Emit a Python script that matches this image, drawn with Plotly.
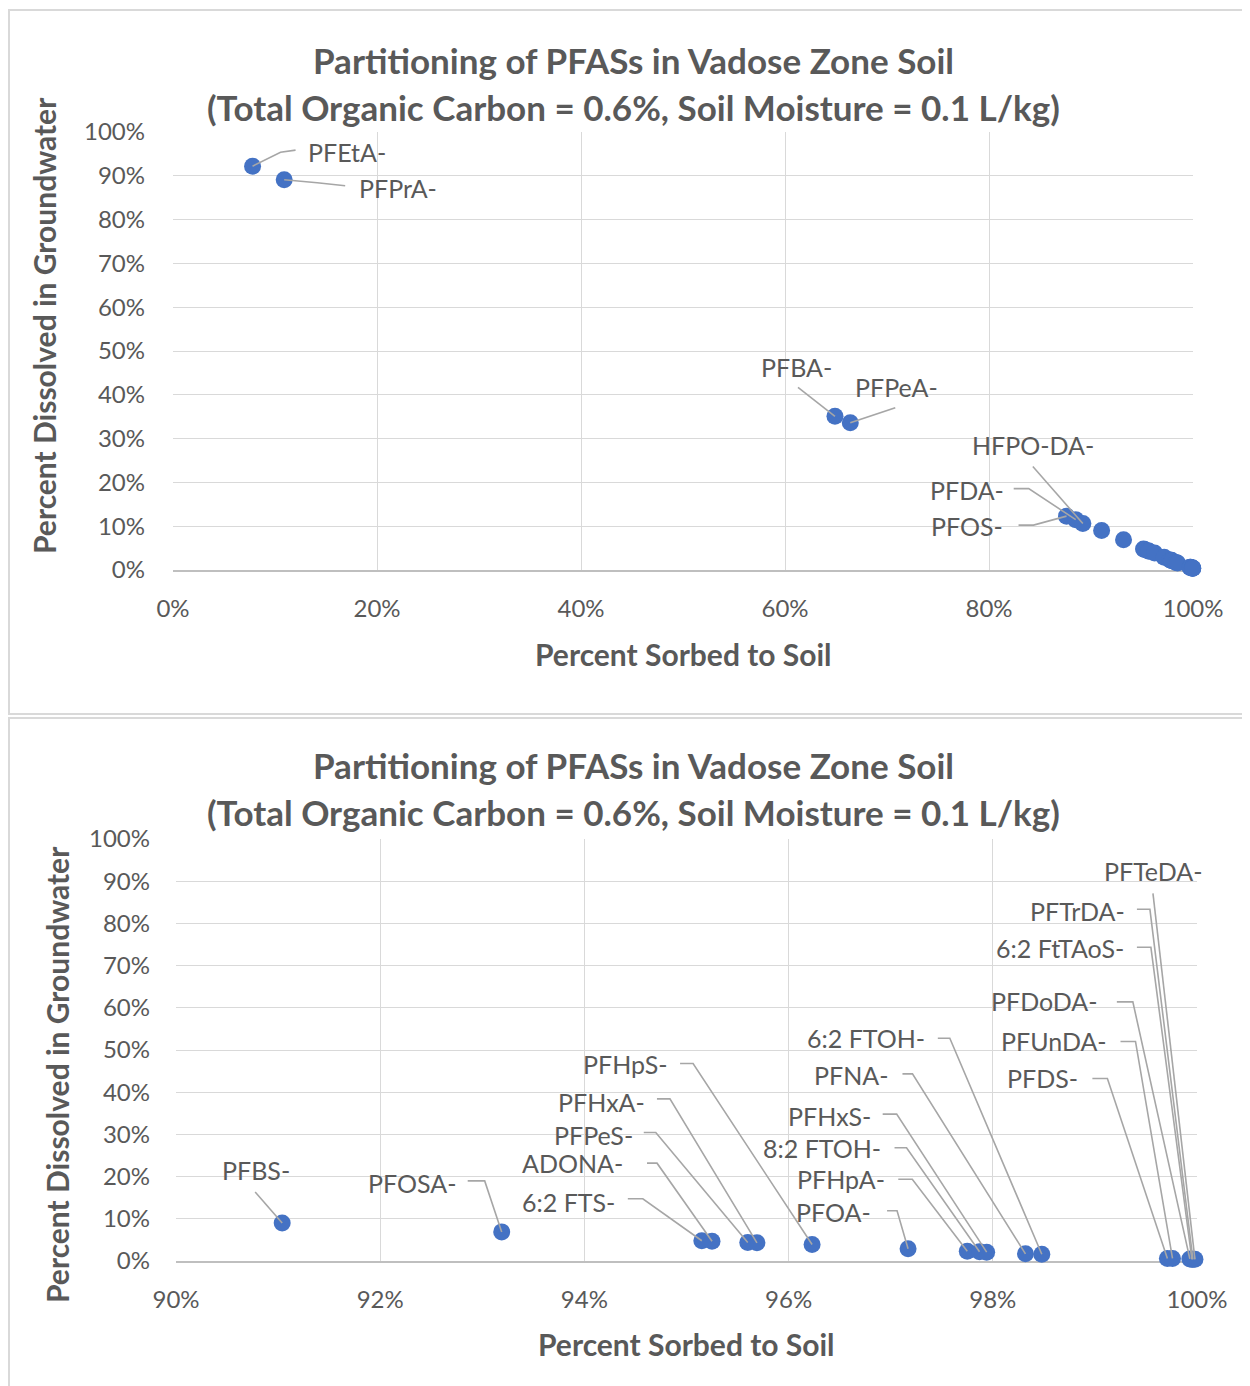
import plotly.graph_objects as go

# ---------------- data ----------------
compounds = [
    "PFEtA-", "PFPrA-", "PFBA-", "PFPeA-", "PFOS-", "PFDA-", "HFPO-DA-",
    "PFBS-", "PFOSA-", "6:2 FTS-", "ADONA-", "PFPeS-", "PFHxA-", "PFHpS-",
    "PFOA-", "PFHpA-", "8:2 FTOH-", "PFHxS-", "PFNA-", "6:2 FTOH-",
    "PFDS-", "PFUnDA-", "PFDoDA-", "6:2 FtTAoS-", "PFTrDA-", "PFTeDA-",
]
sorbed_pct = [
    7.8, 10.9, 64.9, 66.4, 87.6, 88.5, 89.2,
    91.04, 93.19, 95.15, 95.25, 95.60, 95.69, 96.23,
    97.17, 97.75, 97.87, 97.94, 98.32, 98.48,
    99.71, 99.76, 99.93, 99.95, 99.96, 99.98,
]
dissolved_pct = [
    92.2, 89.1, 35.1, 33.6, 12.3, 11.5, 10.6,
    9.0, 6.9, 4.8, 4.7, 4.4, 4.3, 3.9,
    2.9, 2.3, 2.2, 2.1, 1.7, 1.6,
    0.6, 0.6, 0.5, 0.4, 0.4, 0.4,
]

x_ticks_top = [0, 20, 40, 60, 80, 100]
x_ticks_bottom = [90, 92, 94, 96, 98, 100]
y_ticks = [0, 10, 20, 30, 40, 50, 60, 70, 80, 90, 100]

title_line1 = "Partitioning of PFASs in Vadose Zone Soil"
title_line2 = "(Total Organic Carbon = 0.6%, Soil Moisture = 0.1 L/kg)"
x_title = "Percent Sorbed to Soil"
y_title = "Percent Dissolved in Groundwater"

# ---------------- label layout (pixel offsets from each point, y up) ----------------
LABELS_TOP = {
    "PFEtA-":   dict(t=(53, 14), a="left",   lead=[(43, 16), (28, 14)]),
    "PFPrA-":   dict(t=(73, -8), a="left",   lead=[(61, -6), (33, -3)]),
    "PFBA-":    dict(t=(-38, 49), a="center", lead=[(-37, 29)]),
    "PFPeA-":   dict(t=(46, 36), a="center", lead=[(45, 15)]),
    "HFPO-DA-": dict(t=(-50, 79), a="center", lead=[(-50, 57)]),
    "PFDA-":    dict(t=(-70, 30), a="right",  lead=[(-62, 31), (-47, 31)]),
    "PFOS-":    dict(t=(-62, -10), a="right", lead=[(-48, -9), (-33, -9)]),
}
LABELS_BOTTOM = {
    "PFBS-":       dict(t=(-26, 53), a="center", lead=[(-27, 31)]),
    "PFOSA-":      dict(t=(-44, 49), a="right", lead=[(-34, 51), (-17, 51)]),
    "6:2 FTS-":    dict(t=(-85, 39), a="right", lead=[(-74, 42), (-59, 42)]),
    "ADONA-":      dict(t=(-87, 78), a="right", lead=[(-65, 78), (-55, 78)]),
    "PFPeS-":      dict(t=(-113, 107), a="right", lead=[(-104, 110), (-92, 110)]),
    "PFHxA-":      dict(t=(-110, 141), a="right", lead=[(-100, 144), (-87, 144)]),
    "PFHpS-":      dict(t=(-142, 181), a="right", lead=[(-132, 181), (-119, 181)]),
    "6:2 FTOH-":   dict(t=(-115, 216), a="right", lead=[(-104, 216), (-92, 216)]),
    "PFNA-":       dict(t=(-135, 179), a="right", lead=[(-123, 180), (-113, 180)]),
    "PFHxS-":      dict(t=(-114, 136), a="right", lead=[(-104, 138), (-90, 138)]),
    "8:2 FTOH-":   dict(t=(-97, 104), a="right", lead=[(-85, 104), (-73, 104)]),
    "PFHpA-":      dict(t=(-80, 72), a="right", lead=[(-69, 72), (-55, 72)]),
    "PFOA-":       dict(t=(-35, 37), a="right", lead=[(-21, 38), (-11, 38)]),
    "PFTeDA-":     dict(t=(-42, 388), a="center", lead=[(-42, 366)]),
    "PFTrDA-":     dict(t=(-66, 348), a="right", lead=[(-56, 350), (-43, 350)]),
    "6:2 FtTAoS-": dict(t=(-66, 311), a="right", lead=[(-55, 312), (-41, 312)]),
    "PFDoDA-":     dict(t=(-90, 258), a="right", lead=[(-73, 257), (-57, 257)]),
    "PFUnDA-":     dict(t=(-64, 217), a="right", lead=[(-52, 217), (-37, 217)]),
    "PFDS-":       dict(t=(-87, 180), a="right", lead=[(-75, 180), (-60, 180)]),
}

# ---------------- styling ----------------
W, H = 1250, 1386
PAGE_OFFSET = 8  # default body margin of the page
FONT = "Lato"
TXT = "#595959"
GRID = "#D9D9D9"
LEAD = "#A6A6A6"
BLUE = "#4472C4"


def fx(p):
    return (p - PAGE_OFFSET) / W


def fy(p):
    return 1 - (p - PAGE_OFFSET) / H


fig = go.Figure()

# top chart: all compounds
fig.add_trace(go.Scatter(
    x=sorbed_pct, y=dissolved_pct, mode="markers", xaxis="x", yaxis="y",
    marker=dict(size=17, color=BLUE, line=dict(width=0)),
    cliponaxis=False, showlegend=False, hoverinfo="text", text=compounds,
))

# bottom chart: compounds sorbed >= 90 %
bx, by, bn = [], [], []
for n, sx, dy in zip(compounds, sorbed_pct, dissolved_pct):
    if sx >= 90:
        bx.append(sx)
        by.append(dy)
        bn.append(n)
fig.add_trace(go.Scatter(
    x=bx, y=by, mode="markers", xaxis="x2", yaxis="y2",
    marker=dict(size=17, color=BLUE, line=dict(width=0)),
    cliponaxis=False, showlegend=False, hoverinfo="text", text=bn,
))

axis_common = dict(
    showgrid=True, gridcolor=GRID, gridwidth=1.3, zeroline=False,
    ticks="", tickfont=dict(family=FONT, size=24, color=TXT),
    fixedrange=True, layer="below traces", automargin=False,
)


def pct(vals):
    return [f"{v}%" for v in vals]


fig.update_layout(
    template="none",
    width=W, height=H, autosize=False,
    margin=dict(l=0, r=0, t=0, b=0, pad=0),
    paper_bgcolor="white", plot_bgcolor="white",
    showlegend=False,
    xaxis=dict(domain=[fx(173), fx(1193)], range=[0, 100], tickvals=x_ticks_top,
               ticktext=pct(x_ticks_top),
               showline=True, linecolor="#BFBFBF", linewidth=1.5, ticklabelstandoff=16,
               anchor="y", **axis_common),
    yaxis=dict(domain=[fy(570), fy(132)], range=[0, 100], tickvals=y_ticks,
               ticktext=pct(y_ticks),
               showline=False, ticklabelstandoff=27, anchor="x", **axis_common),
    xaxis2=dict(domain=[fx(176), fx(1197)], range=[90, 100], tickvals=x_ticks_bottom,
                ticktext=pct(x_ticks_bottom),
                showline=True, linecolor="#BFBFBF", linewidth=1.5, ticklabelstandoff=16,
                anchor="y2", **axis_common),
    yaxis2=dict(domain=[fy(1261), fy(839)], range=[0, 100], tickvals=y_ticks,
                ticktext=pct(y_ticks),
                showline=False, ticklabelstandoff=25, anchor="x2", **axis_common),
)

annotations = []
shapes = []

# chart-area borders
shapes.append(dict(type="rect", xref="paper", yref="paper", x0=fx(9), x1=fx(1270),
                   y0=fy(714), y1=fy(10), line=dict(color=GRID, width=2), layer="below"))
shapes.append(dict(type="rect", xref="paper", yref="paper", x0=fx(9), x1=fx(1270),
                   y0=fy(1420), y1=fy(718), line=dict(color=GRID, width=2), layer="below"))

# titles
for (ty1, ty2, xc) in [(60, 107, 633), (765, 812, 633)]:
    annotations.append(dict(text=f"<b>{title_line1}</b>", x=fx(xc), y=fy(ty1), xref="paper",
                            yref="paper", showarrow=False, xanchor="center", yanchor="middle",
                            font=dict(family=FONT, size=35, color=TXT)))
    annotations.append(dict(text=f"<b>{title_line2}</b>", x=fx(xc), y=fy(ty2), xref="paper",
                            yref="paper", showarrow=False, xanchor="center", yanchor="middle",
                            font=dict(family=FONT, size=35, color=TXT)))

# axis titles
for (xx, xy, yx, yy) in [(683, 654, 44, 326), (686, 1344, 57, 1075)]:
    annotations.append(dict(text=f"<b>{x_title}</b>", x=fx(xx), y=fy(xy), xref="paper",
                            yref="paper", showarrow=False, xanchor="center", yanchor="middle",
                            font=dict(family=FONT, size=30, color=TXT)))
    annotations.append(dict(text=f"<b>{y_title}</b>", x=fx(yx), y=fy(yy), xref="paper",
                            yref="paper", showarrow=False, xanchor="center", yanchor="middle",
                            textangle=-90, font=dict(family=FONT, size=30, color=TXT)))


def add_labels(label_map, xr, yr):
    for n, sx, dy in zip(compounds, sorbed_pct, dissolved_pct):
        if n not in label_map:
            continue
        spec = label_map[n]
        tdx, tdy = spec["t"]
        annotations.append(dict(
            text=n, x=sx, y=dy, xref=xr, yref=yr, showarrow=False,
            xanchor=spec["a"], yanchor="middle", xshift=tdx, yshift=tdy,
            font=dict(family=FONT, size=25, color=TXT),
        ))
        pts = spec["lead"]
        path = "M " + " L ".join(f"{px},{py}" for px, py in pts) + " L 0,0"
        shapes.append(dict(
            type="path", xref=xr, yref=yr, xsizemode="pixel", ysizemode="pixel",
            xanchor=sx, yanchor=dy, path=path,
            line=dict(color=LEAD, width=1.6), layer="above",
        ))


add_labels(LABELS_TOP, "x", "y")
add_labels(LABELS_BOTTOM, "x2", "y2")

fig.update_layout(annotations=annotations, shapes=shapes)
fig.write_html("out.html")
